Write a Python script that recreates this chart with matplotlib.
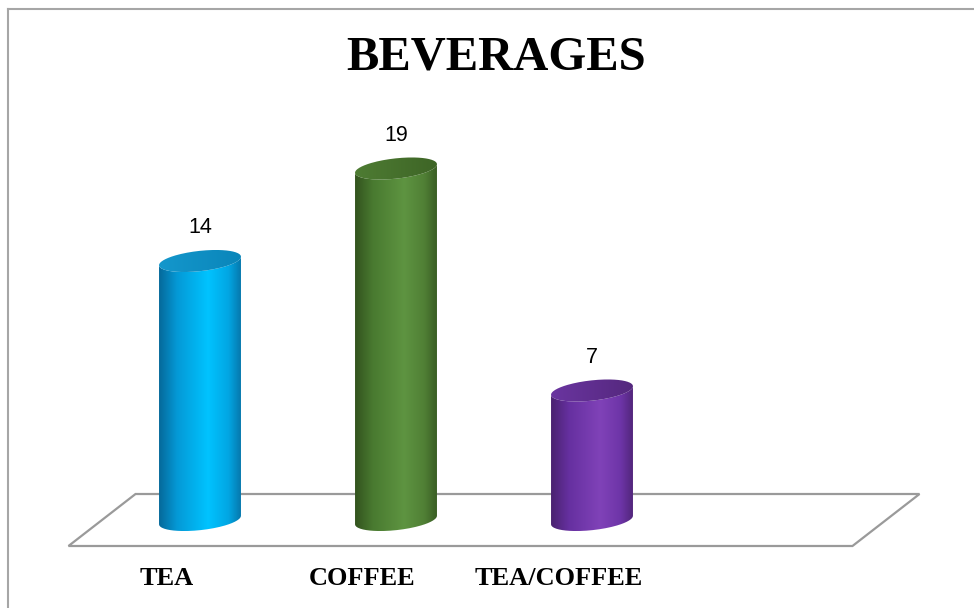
import numpy as np
import matplotlib.pyplot as plt
from matplotlib.path import Path
from matplotlib.patches import PathPatch, Polygon
from matplotlib.lines import Line2D
from matplotlib.colors import LinearSegmentedColormap

categories = ['TEA', 'COFFEE', 'TEA/COFFEE']
values = [14, 19, 7]
# side shading (edge, mid, highlight, mid, edge) and top cap colours
side_colors = [
    ['#06699A', '#0499D6', '#00C3FF', '#02A6E3', '#0678AD'],
    ['#33531E', '#497A30', '#5E9441', '#507F35', '#3A5E24'],
    ['#4A2270', '#6630A0', '#8042B8', '#6E35A8', '#52267C'],
]
cap_colors = [
    ['#1497CC', '#0A86BA'],
    ['#4E7C33', '#3E6526'],
    ['#6A35A0', '#55287E'],
]

radius = 0.209     # cylinder half-width, category units
cap_h = 0.55       # ellipse half-height, value units
tilt = 0.23        # ellipse tilt (right end raised), value units
floor_depth = 1.405
floor_skew = 0.171

fig = plt.figure(figsize=(9.74, 6.08), dpi=100)
ax = fig.add_axes([0, 0, 1, 1])
ax.set_axis_off()


def ellipse_pts(cx, cy, t):
    return np.column_stack([cx + radius * np.cos(t),
                            cy + cap_h * np.sin(t) + tilt * np.cos(t)])


# floor
n_slots = len(categories) + 1
x0, x1 = -0.5, n_slots - 0.5
floor = Polygon([(x0 + floor_skew, floor_depth), (x1 + floor_skew, floor_depth),
                 (x1 - floor_skew, -floor_depth), (x0 - floor_skew, -floor_depth)],
                closed=True, fc='white', ec='#9A9A9A', lw=1.6, zorder=1)
ax.add_patch(floor)

lower = np.linspace(np.pi, 2 * np.pi, 80)
full = np.linspace(0, 2 * np.pi, 160)

for i, (val, sc, cc) in enumerate(zip(values, side_colors, cap_colors)):
    bottom_arc = ellipse_pts(i, 0, lower)
    top_arc = ellipse_pts(i, val, lower)[::-1]
    body = np.vstack([bottom_arc, top_arc, bottom_arc[:1]])
    body_patch = PathPatch(Path(body), fc='none', ec='none', zorder=2)
    ax.add_patch(body_patch)

    cmap = LinearSegmentedColormap.from_list(
        'side%d' % i, list(zip([0, 0.22, 0.6, 0.85, 1.0], sc)))
    grad = np.linspace(0, 1, 256).reshape(1, -1)
    im = ax.imshow(grad, cmap=cmap, aspect='auto', interpolation='bicubic',
                   extent=[i - radius, i + radius, -1, val + 1], zorder=2)
    im.set_clip_path(body_patch)

    cap = ellipse_pts(i, val, full)
    cap_patch = PathPatch(Path(cap), fc='none', ec='none', zorder=3)
    ax.add_patch(cap_patch)
    cap_cmap = LinearSegmentedColormap.from_list('cap%d' % i, cc)
    im2 = ax.imshow(grad, cmap=cap_cmap, aspect='auto', interpolation='bicubic',
                    extent=[i - radius, i + radius, val - 1, val + 1], zorder=3)
    im2.set_clip_path(cap_patch)

    ax.text(i, val + 1.8, str(val), ha='center', va='center',
            fontsize=15.5, family='Liberation Sans', color='black', zorder=4)

for i, cat in enumerate(categories):
    ax.text(i - floor_skew, -3.14, cat, ha='center', va='center',
            fontsize=19, fontweight='bold', family='Liberation Serif')

ax.set_xlim(-200 / 196, 774 / 196)
ax.set_ylim(-88 / 18.5, 520 / 18.5)

fig.text(0.509, 1 - 58 / 608, 'BEVERAGES', ha='center', va='center',
         fontsize=35, fontweight='bold', family='Liberation Serif')

# chart-area border (left and top edges)
fig.add_artist(Line2D([8 / 974, 8 / 974], [0, 1 - 9 / 608],
                      transform=fig.transFigure, color='#A6A6A6', lw=1.5))
fig.add_artist(Line2D([8 / 974, 1], [1 - 9 / 608, 1 - 9 / 608],
                      transform=fig.transFigure, color='#A6A6A6', lw=1.5))

fig.savefig('out.png', dpi=100)
